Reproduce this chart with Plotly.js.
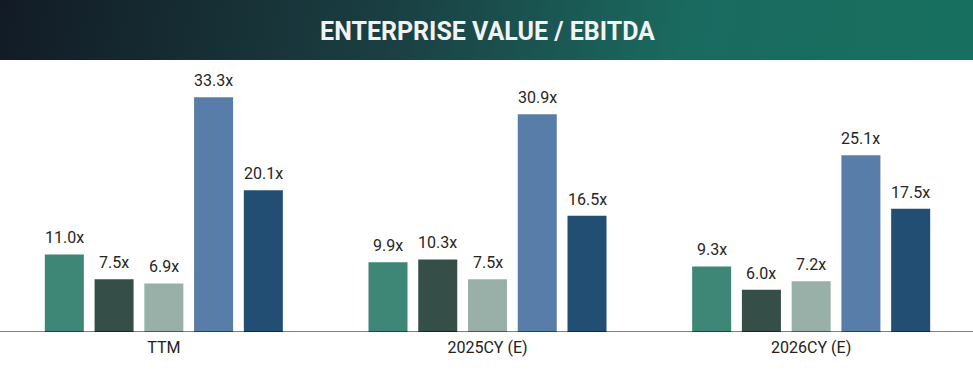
<!DOCTYPE html>
<html>
<head>
<meta charset="utf-8">
<script src="https://cdn.plot.ly/plotly-3.0.1.min.js"></script>
<style>
html,body{margin:0;padding:0;background:#ffffff;}
#wrap{position:relative;width:973px;height:376px;}
#band{position:absolute;left:0;top:0;width:973px;height:60px;background:linear-gradient(100deg,#121b25 0%,#1a3f42 40%,#1a6a60 70%,#17705f 100%);}
#chart{position:absolute;left:0;top:0;width:973px;height:376px;}
</style>
</head>
<body>
<div id="wrap"><div id="band"></div><div id="chart"></div></div>
<script>
const categories = ["TTM", "2025CY (E)", "2026CY (E)"];
const seriesNames = ["Series 1", "Series 2", "Series 3", "Series 4", "Series 5"];
const series1 = [11.0, 9.9, 9.3];
const series2 = [7.5, 10.3, 6.0];
const series3 = [6.9, 7.5, 7.2];
const series4 = [33.3, 30.9, 25.1];
const series5 = [20.1, 16.5, 17.5];
const colors = ["#3e8676", "#354e47", "#98b0a8", "#587da9", "#234e74"];

const allSeries = [series1, series2, series3, series4, series5];
const traces = allSeries.map((vals, i) => ({
  type: "bar",
  name: seriesNames[i],
  x: categories,
  y: vals,
  marker: {color: colors[i]},
  hoverinfo: "skip"
}));

const slot = 49.75;
const annotations = [];
allSeries.forEach((vals, i) => {
  vals.forEach((v, j) => {
    annotations.push({
      x: categories[j], y: v, xref: "x", yref: "y",
      xshift: (i - 2) * slot, yshift: 5,
      xanchor: "center", yanchor: "bottom",
      text: v.toFixed(1) + "x", showarrow: false,
      font: {family: "Roboto, sans-serif", size: 16, color: "#262626"}
    });
  });
});

const layout = {
  width: 973, height: 376,
  margin: {l: 2, r: 0, t: 60, b: 44, pad: 0},
  paper_bgcolor: "rgba(0,0,0,0)",
  plot_bgcolor: "#ffffff",
  showlegend: false,
  barmode: "group",
  bargap: 0.2314,
  bargroupgap: 0.216,
  annotations: annotations,
  shapes: [{type: "line", xref: "paper", yref: "y", x0: -0.01, x1: 1.01, y0: 0, y1: 0,
            line: {color: "#000000", width: 1}}],
  title: {
    text: "<b>ENTERPRISE VALUE / EBITDA</b>",
    font: {family: "Roboto, sans-serif", size: 25, color: "#f2f2f2"},
    x: 0.5, xanchor: "center", xref: "paper",
    y: 1 - 31/376, yanchor: "middle", yref: "container"
  },
  xaxis: {
    type: "category",
    range: [-0.5, 2.5],
    showline: false,
    ticks: "", showgrid: false,
    ticklabelstandoff: 4,
    tickfont: {family: "Roboto, sans-serif", size: 16, color: "#222222"},
    fixedrange: true
  },
  yaxis: {
    range: [0, 38.6],
    visible: false, showgrid: false, zeroline: false,
    fixedrange: true
  }
};

Plotly.newPlot("chart", traces, layout, {displayModeBar: false, staticPlot: true});
</script>
</body>
</html>
